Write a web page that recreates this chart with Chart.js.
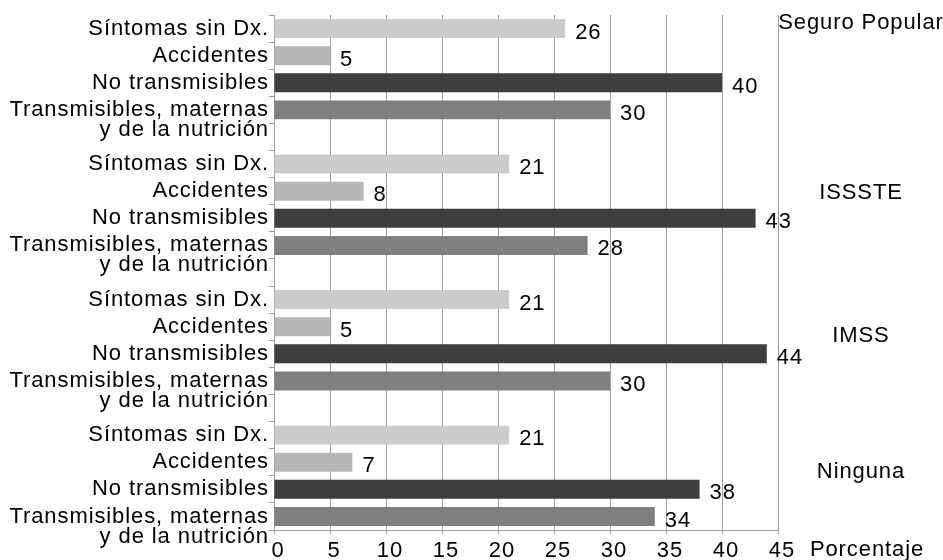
<!DOCTYPE html>
<html>
<head>
<meta charset="utf-8">
<script src="https://cdn.jsdelivr.net/npm/chart.js@4"></script>
<style>
  html, body { margin: 0; padding: 0; background: #ffffff; }
  canvas { display: block; }
</style>
</head>
<body>
<canvas id="chart" width="943" height="560"></canvas>
<script>
// Causes of demand by health-insurance affiliation (percent)
const groups = ['Seguro Popular', 'ISSSTE', 'IMSS', 'Ninguna'];
const causes = [
  'Síntomas sin Dx.',
  'Accidentes',
  'No transmisibles',
  ['', 'Transmisibles, maternas', 'y de la nutrición']
];
const seguroPopular = [26, 5, 40, 30];
const issste        = [21, 8, 43, 28];
const imss          = [21, 5, 44, 30];
const ninguna       = [21, 7, 38, 34];
const xTicks = [0, 5, 10, 15, 20, 25, 30, 35, 40, 45];
const axisTitle = 'Porcentaje';

const causeColors = ['#cbcbcb', '#b6b6b6', '#3e3e3e', '#7f7f7f'];
const gridColor = '#9d9d9d';
const FONT = '"Liberation Sans", Arial, Helvetica, sans-serif';
const FONT_SIZE = 22;
const SPACING = '0.9px';

// One category row per cause, with a blank row between groups
const groupValues = [seguroPopular, issste, imss, ninguna];
const labels = [];
const values = [];
const colors = [];
groupValues.forEach((vals, g) => {
  vals.forEach((v, i) => {
    labels.push(causes[i]);
    values.push(v);
    colors.push(causeColors[i]);
  });
  if (g < groupValues.length - 1) {
    labels.push('');
    values.push(null);
    colors.push('rgba(0,0,0,0)');
  }
});

Chart.defaults.font.family = FONT;
Chart.defaults.font.size = FONT_SIZE;
Chart.defaults.color = '#000000';

// Slightly wider tracking for all canvas text
const tracking = {
  id: 'tracking',
  beforeLayout(chart) { chart.ctx.letterSpacing = SPACING; },
  beforeDraw(chart) { chart.ctx.letterSpacing = SPACING; }
};

// Value printed to the right of each bar
const valueLabels = {
  id: 'valueLabels',
  afterDatasetsDraw(chart) {
    const ctx = chart.ctx;
    const ds = chart.data.datasets[0];
    const meta = chart.getDatasetMeta(0);
    ctx.save();
    ctx.letterSpacing = SPACING;
    ctx.font = FONT_SIZE + 'px ' + FONT;
    ctx.fillStyle = '#000000';
    ctx.textAlign = 'left';
    ctx.textBaseline = 'middle';
    meta.data.forEach((bar, i) => {
      const v = ds.data[i];
      if (v === null || v === undefined) return;
      ctx.fillText(String(v), bar.x + 10, bar.y + 4);
    });
    ctx.restore();
  }
};

// Group names on the right side and the axis title
const sideLabels = {
  id: 'sideLabels',
  afterDraw(chart, args, opts) {
    const ctx = chart.ctx;
    const y = chart.scales.y;
    const area = chart.chartArea;
    ctx.save();
    ctx.letterSpacing = SPACING;
    ctx.font = FONT_SIZE + 'px ' + FONT;
    ctx.fillStyle = '#000000';
    ctx.textAlign = 'center';
    ctx.textBaseline = 'middle';
    groups.forEach((name, i) => {
      ctx.fillText(name, area.right + opts.offsetX, y.getPixelForValue(opts.anchors[i]));
    });
    ctx.fillText(axisTitle, area.right + opts.titleX, area.bottom + opts.titleY);
    ctx.restore();
  }
};

new Chart(document.getElementById('chart'), {
  type: 'bar',
  data: {
    labels: labels,
    datasets: [{
      data: values,
      backgroundColor: colors,
      borderWidth: 0,
      barPercentage: 0.7,
      categoryPercentage: 1.0
    }]
  },
  options: {
    indexAxis: 'y',
    responsive: false,
    animation: false,
    layout: { padding: { top: 15, right: 165, left: 0, bottom: 0 } },
    plugins: {
      legend: { display: false },
      tooltip: { enabled: false },
      sideLabels: {
        anchors: [-0.2, 6.07, 11.35, 16.34],
        offsetX: 83,
        titleX: 89,
        titleY: 20
      }
    },
    scales: {
      x: {
        min: 0,
        max: 45,
        afterBuildTicks(scale) { scale.ticks = xTicks.map(v => ({ value: v })); },
        afterFit(scale) { scale.height = 30; },
        grid: { color: gridColor, lineWidth: 1, tickLength: 4, drawTicks: true },
        border: { display: true, color: gridColor, width: 1 },
        ticks: { padding: 4, labelOffset: 4, color: '#000000', maxRotation: 0, autoSkip: false }
      },
      y: {
        afterFit(scale) {
          scale.width = 274;
          scale.paddingTop = 0;
          scale.paddingBottom = 0;
        },
        grid: { display: true, drawOnChartArea: false, color: gridColor, tickLength: 5, offset: true },
        border: { display: true, color: gridColor, width: 1 },
        ticks: {
          padding: 0,
          autoSkip: false,
          font: { lineHeight: '20px' },
          color: '#000000'
        }
      }
    }
  },
  plugins: [tracking, valueLabels, sideLabels]
});
</script>
</body>
</html>
